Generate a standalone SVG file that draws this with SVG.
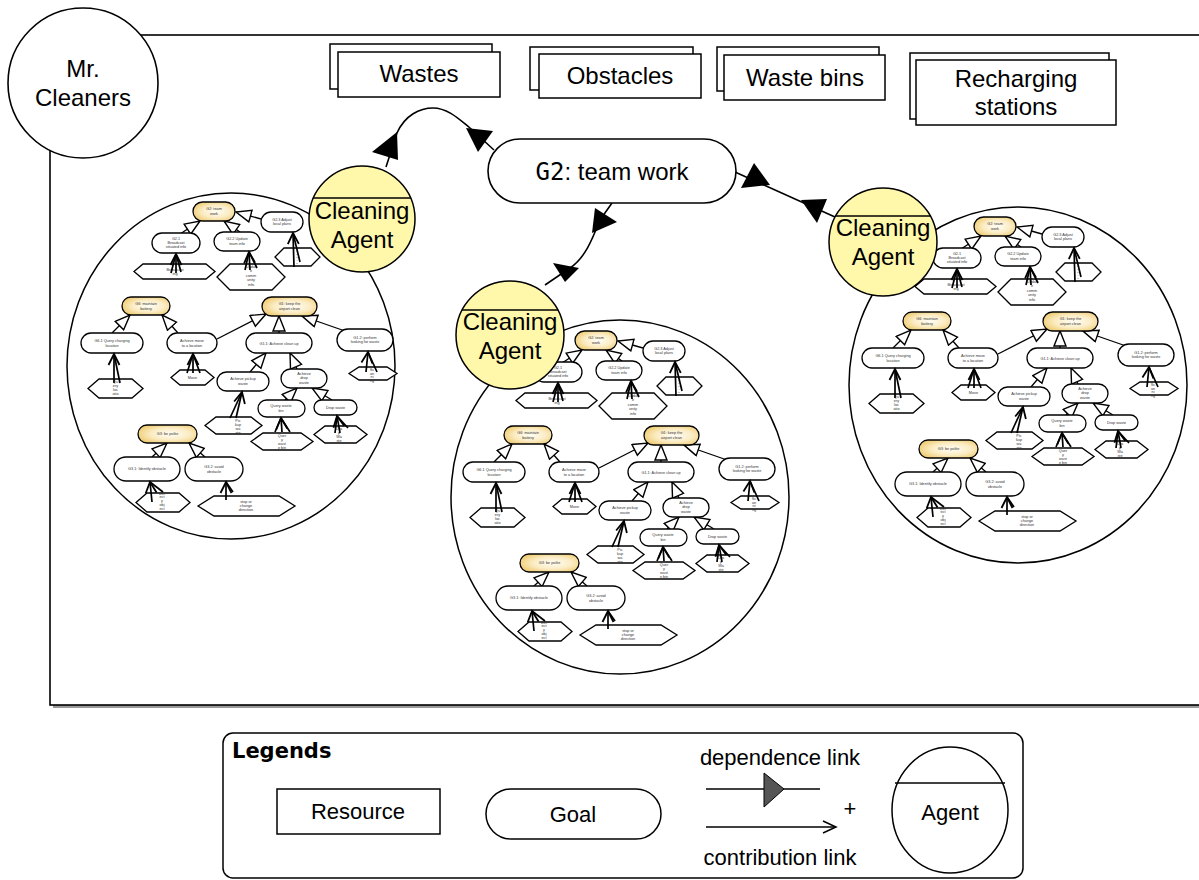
<svg xmlns="http://www.w3.org/2000/svg" width="1199" height="880" viewBox="0 0 1199 880">
<defs>
<style>
 .lbl{font-family:"Liberation Sans",Arial,sans-serif;fill:#000;text-anchor:middle}
 .big{font-size:24px}
 .leg{font-size:22px}
 .t{font-family:"Liberation Sans",Arial,sans-serif;font-size:3.8px;fill:#333;text-anchor:middle}
 .tv{font-family:"Liberation Sans",Arial,sans-serif;font-size:2.4px;fill:#333;text-anchor:middle}
 .g{fill:#fff;stroke:#000;stroke-width:1.3}
 .gy{fill:url(#gold);stroke:#000;stroke-width:1.3}
 .hx{fill:#fff;stroke:#000;stroke-width:1.3}
 .dc{stroke:#000;stroke-width:1.3;fill:none;marker-end:url(#hollow)}
 .me{stroke:#000;stroke-width:1.7;fill:none}
 .mh{stroke:#000;stroke-width:1.7;fill:none;marker-end:url(#vee)}
 .res{fill:#fff;stroke:#000;stroke-width:1.5}
 .agent{fill:#fff8ab;stroke:#000;stroke-width:1.5}
 .scope{fill:#fff;stroke:#000;stroke-width:1.5}
 .dep{stroke:#000;stroke-width:1.6;fill:none}
 .dtri{fill:#000}
</style>
<radialGradient id="gold" cx="0.55" cy="0.5" r="0.6">
 <stop offset="0" stop-color="#fffdf5"/>
 <stop offset="0.55" stop-color="#fbecc4"/>
 <stop offset="1" stop-color="#efcc72"/>
</radialGradient>
<marker id="hollow" markerWidth="18" markerHeight="15" refX="16" refY="7" orient="auto" markerUnits="userSpaceOnUse">
 <path d="M1,1 L16,7 L1,13 Z" fill="#fff" stroke="#000" stroke-width="1.4"/>
</marker>
<marker id="vee" markerWidth="14" markerHeight="14" refX="12" refY="7" orient="auto" markerUnits="userSpaceOnUse">
 <path d="M1,1.5 L12,7 L1,12.5" fill="none" stroke="#000" stroke-width="1.8"/>
</marker>
<marker id="open" markerWidth="16" markerHeight="14" refX="14" refY="7" orient="auto" markerUnits="userSpaceOnUse">
 <path d="M1,1 L14,7 L1,13" fill="none" stroke="#000" stroke-width="1.5"/>
</marker>

<!-- goal model carried inside each cleaning agent (drawn at the left agent's position) -->
<g id="goal-model">
 <g class="links">
  <line class="dc" x1="180" y1="234" x2="200" y2="221"/>
  <line class="dc" x1="240" y1="232" x2="224" y2="221"/>
  <line class="dc" x1="261" y1="219" x2="236" y2="212"/>
  <line class="dc" x1="112" y1="333" x2="130" y2="315"/>
  <line class="dc" x1="178" y1="333" x2="162" y2="315"/>
  <line class="dc" x1="217" y1="339" x2="266" y2="314"/>
  <line class="dc" x1="279" y1="333" x2="279" y2="316"/>
  <line class="dc" x1="345" y1="331" x2="302" y2="316"/>
  <line class="dc" x1="250" y1="372" x2="266" y2="353"/>
  <line class="dc" x1="297" y1="369" x2="290" y2="353"/>
  <line class="dc" x1="285" y1="400" x2="297" y2="388"/>
  <line class="dc" x1="332" y1="400" x2="312" y2="388"/>
  <line class="dc" x1="152" y1="457" x2="167" y2="443"/>
  <line class="dc" x1="205" y1="457" x2="189" y2="443"/>
 </g>
 <g class="goals">
  <rect class="gy" x="193" y="202" width="42" height="19" rx="9.5"/>
  <text class="t" x="214" y="210">G2: team</text><text class="t" x="214" y="214.5">work</text>
  <rect class="g" x="261" y="212" width="42" height="20" rx="10"/>
  <text class="t" x="282" y="221">G2.3 Adjust</text><text class="t" x="282" y="225">local plans</text>
  <rect class="g" x="152" y="233" width="48" height="20" rx="10"/>
  <text class="t" x="176" y="240">G2.1</text><text class="t" x="176" y="244">Broadcast</text><text class="t" x="176" y="248">situated info</text>
  <rect class="g" x="214" y="232" width="46" height="19" rx="9.5"/>
  <text class="t" x="237" y="240">G2.2 Update</text><text class="t" x="237" y="244.5">team info</text>
  <rect class="gy" x="122" y="297" width="48" height="18" rx="9"/>
  <text class="t" x="146" y="305">G6: maintain</text><text class="t" x="146" y="309.5">battery</text>
  <rect class="gy" x="262" y="297" width="55" height="19" rx="9.5"/>
  <text class="t" x="289.5" y="305">G1: keep the</text><text class="t" x="289.5" y="309.5">airport clean</text>
  <rect class="g" x="81" y="333" width="62" height="20" rx="10"/>
  <text class="t" x="112" y="342">G6.1 Query charging</text><text class="t" x="112" y="346.5">location</text>
  <rect class="g" x="167" y="333" width="50" height="20" rx="10"/>
  <text class="t" x="192" y="342">Achieve move</text><text class="t" x="192" y="346.5">to a location</text>
  <rect class="g" x="246" y="333" width="66" height="20" rx="10"/>
  <text class="t" x="279" y="344.5">G1.1: Achieve clean up</text>
  <rect class="g" x="337" y="329" width="56" height="22" rx="11"/>
  <text class="t" x="365" y="338.5">G1.2: perform</text><text class="t" x="365" y="343">looking for waste</text>
  <rect class="g" x="217" y="372" width="52" height="19" rx="9.5"/>
  <text class="t" x="243" y="380">Achieve pickup</text><text class="t" x="243" y="384.5">waste</text>
  <rect class="g" x="281" y="369" width="46" height="19" rx="9.5"/>
  <text class="t" x="304" y="374.5">Achieve</text><text class="t" x="304" y="379">drop</text><text class="t" x="304" y="383.5">waste</text>
  <rect class="g" x="258" y="400" width="47" height="17" rx="8.5"/>
  <text class="t" x="281" y="407">Query waste</text><text class="t" x="281" y="411.5">bin</text>
  <rect class="g" x="314" y="400" width="43" height="15" rx="7.5"/>
  <text class="t" x="335.5" y="408.8">Drop waste</text>
  <rect class="gy" x="138" y="425" width="59" height="18" rx="9"/>
  <text class="t" x="167.5" y="435.2">G3: be polite</text>
  <rect class="g" x="114" y="457" width="66" height="24" rx="12"/>
  <text class="t" x="147" y="470">G3.1: Identify obstacle</text>
  <rect class="g" x="185" y="457" width="58" height="24" rx="12"/>
  <text class="t" x="214" y="468">G3.2: avoid</text><text class="t" x="214" y="472.5">obstacle</text>
 </g>
 <g class="plans">
  <polygon class="hx" points="134,271.5 143,264 206,264 215,271.5 206,279 143,279"/>
  <text class="t" x="175" y="270.5">Broadcast</text><text class="t" x="175" y="275">ing</text>
  <polygon class="hx" points="217,277 230,264 272,264 285,277 272,290 230,290"/>
  <text class="t" x="251" y="268">Updat</text><text class="t" x="251" y="272">e</text><text class="t" x="251" y="276.5">comm</text><text class="t" x="251" y="281">unity</text><text class="t" x="251" y="285.5">info</text>
  <polygon class="hx" points="275,257 284,248 311,248 320,257 311,266 284,266"/>
  <text class="tv" x="297" y="252">r</text><text class="tv" x="297" y="255">e</text><text class="tv" x="297" y="258">p</text><text class="tv" x="297" y="261">l</text><text class="tv" x="297" y="264">a</text><text class="tv" x="297" y="267">n</text>
  <polygon class="hx" points="88,388.5 99,379 132,379 143,388.5 132,398 99,398"/>
  <text class="t" x="115.5" y="383">Qu</text><text class="t" x="115.5" y="387">ery</text><text class="t" x="115.5" y="391">loc</text><text class="t" x="115.5" y="395">atio</text><text class="t" x="115.5" y="399">n</text>
  <polygon class="hx" points="171,377.5 180,370 205,370 214,377.5 205,385 180,385"/>
  <text class="t" x="192.5" y="379">Move</text>
  <polygon class="hx" points="349,373.5 359,367 387,367 397,373.5 387,380 359,380"/>
  <text class="t" x="372" y="371">Sc</text><text class="t" x="372" y="374.5">an</text><text class="t" x="372" y="378">ni</text><text class="t" x="372" y="381.5">ng</text>
  <polygon class="hx" points="205,425.5 216,417 251,417 262,425.5 251,434 216,434"/>
  <text class="t" x="238" y="421.5">Pic</text><text class="t" x="238" y="425.5">kup</text><text class="t" x="238" y="429.5">wa</text><text class="t" x="238" y="433.5">ste</text>
  <polygon class="hx" points="251,441.5 263,433 301,433 313,441.5 301,450 263,450"/>
  <text class="t" x="282" y="437">Quer</text><text class="t" x="282" y="440.5">y</text><text class="t" x="282" y="444.5">wast</text><text class="t" x="282" y="448.5">e bin</text>
  <polygon class="hx" points="314,434.5 325,426 356,426 367,434.5 356,443 325,443"/>
  <text class="t" x="339" y="430">Dro</text><text class="t" x="339" y="433.5">p</text><text class="t" x="339" y="437.5">Wa</text><text class="t" x="339" y="441.5">ste</text>
  <polygon class="hx" points="136,502.5 147,493 179,493 190,502.5 179,512 147,512"/>
  <text class="t" x="162" y="494.5">Det</text><text class="t" x="162" y="498">ect</text><text class="t" x="162" y="501.5">y</text><text class="t" x="162" y="505.5">obj</text><text class="t" x="162" y="509.5">ect</text>
  <polygon class="hx" points="198,506 214,496 279,496 295,506 279,516 214,516"/>
  <text class="t" x="246" y="503">stop or</text><text class="t" x="246" y="507">change</text><text class="t" x="246" y="511">direction</text>
 </g>
 <g class="means-end">
  <path class="me" d="M171,273 L176,254 M181,272 L176,254"/><line class="mh" x1="176" y1="273" x2="176" y2="254"/>
  <path class="me" d="M245,270 L249,252 M257,268 L249,252"/><line class="mh" x1="250" y1="270" x2="249" y2="252"/>
  <path class="me" d="M300,262 L293,233"/><line class="mh" x1="294" y1="267" x2="293" y2="233"/>
  <path class="me" d="M120,383 L114,354"/><line class="mh" x1="114" y1="383" x2="114" y2="354"/>
  <path class="me" d="M187,373 L193,354 M200,373 L193,354"/><line class="mh" x1="193" y1="373" x2="193" y2="354"/>
  <path class="me" d="M377,372 L368,352"/><line class="mh" x1="366" y1="372" x2="368" y2="352"/>
  <path class="me" d="M230,418 L242,392"/><line class="mh" x1="236" y1="418" x2="242" y2="392"/>
  <path class="me" d="M275,432 L281,418 M290,432 L281,418"/><line class="mh" x1="282" y1="432" x2="281" y2="418"/>
  <path class="me" d="M335,433 L337,416 M348,428 L337,416"/><line class="mh" x1="340" y1="433" x2="337" y2="416"/>
  <path class="me" d="M163,492 L150,482"/><line class="mh" x1="152" y1="502" x2="150" y2="482"/>
  <path class="me" d="M233,492 L226,482"/><line class="mh" x1="226" y1="500" x2="226" y2="482"/>
 </g>
</g>
</defs>

<!-- system boundary of the team -->
<g id="team-boundary">
 <rect x="53" y="38" width="1170" height="670" fill="#9a9a9a"/>
 <rect x="50" y="35" width="1170" height="670" fill="#fff" stroke="#000" stroke-width="1.6"/>
</g>

<g id="mr-cleaners">
 <circle cx="83" cy="83" r="75" fill="#fff" stroke="#000" stroke-width="1.6"/>
 <text class="lbl big" x="83" y="77">Mr.</text>
 <text class="lbl big" x="83" y="106">Cleaners</text>
</g>

<!-- shared resources -->
<g id="res-wastes">
 <rect class="res" x="330" y="44" width="162" height="45"/>
 <rect class="res" x="338" y="52" width="162" height="45"/>
 <text class="lbl big" x="419" y="82">Wastes</text>
</g>
<g id="res-obstacles">
 <rect class="res" x="530" y="47" width="163" height="43"/>
 <rect class="res" x="539" y="54" width="162" height="44"/>
 <text class="lbl big" x="620" y="84">Obstacles</text>
</g>
<g id="res-waste-bins">
 <rect class="res" x="717" y="47" width="162" height="44"/>
 <rect class="res" x="724" y="55" width="161" height="45"/>
 <text class="lbl big" x="805" y="86">Waste bins</text>
</g>
<g id="res-recharging">
 <rect class="res" x="910" y="53" width="199" height="66"/>
 <rect class="res" x="916" y="60" width="200" height="65"/>
 <text class="lbl big" x="1016" y="87">Recharging</text>
 <text class="lbl big" x="1016" y="115">stations</text>
</g>

<!-- agent scopes with their internal goal models -->
<g id="scope-left">
 <ellipse class="scope" cx="231" cy="366" rx="164" ry="173"/>
 <use href="#goal-model"/>
</g>
<g id="scope-middle">
 <ellipse class="scope" cx="620" cy="497" rx="169" ry="177"/>
 <use href="#goal-model" transform="translate(382,129)"/>
</g>
<g id="scope-right">
 <ellipse class="scope" cx="1018" cy="385" rx="169" ry="178"/>
 <use href="#goal-model" transform="translate(781,15)"/>
</g>

<!-- dependency links between the agents and the team goal -->
<g id="connectors">
 <path class="dep" d="M386,167 L397,133 C405,115 420,108 433,108 C448,108 460,120 470,128 L494,150"/>
 <polygon class="dtri" points="397,132 372,152 398,160"/>
 <polygon class="dtri" points="466,128 493,131 478,152"/>
 <path class="dep" d="M612,203 L600,220 C592,240 585,258 570,268 L545,285"/>
 <polygon class="dtri" points="595,208 617,222 592,233"/>
 <polygon class="dtri" points="553,263 579,268 565,282"/>
 <path class="dep" d="M735,172 L835,217"/>
 <polygon class="dtri" points="754,163 741,188 770,185"/>
 <polygon class="dtri" points="801,200 827,199 817,223"/>
</g>

<g id="goal-g2">
 <rect x="488" y="139" width="248" height="64" rx="32" fill="#fff" stroke="#000" stroke-width="1.6"/>
 <text class="lbl big" x="612" y="180"><tspan font-family="DejaVu Sans Mono, monospace">G2</tspan>: team work</text>
</g>

<!-- the three cleaning agents -->
<g id="agent-left">
 <circle class="agent" cx="362" cy="219" r="53"/>
 <line x1="313" y1="198" x2="411" y2="198" stroke="#000" stroke-width="1.5"/>
 <text class="lbl big" x="362" y="219">Cleaning</text>
 <text class="lbl big" x="362" y="248">Agent</text>
</g>
<g id="agent-middle">
 <circle class="agent" cx="510" cy="335" r="54"/>
 <line x1="462" y1="310" x2="558" y2="310" stroke="#000" stroke-width="1.5"/>
 <text class="lbl big" x="510" y="330">Cleaning</text>
 <text class="lbl big" x="510" y="359">Agent</text>
</g>
<g id="agent-right">
 <circle class="agent" cx="883" cy="242" r="54"/>
 <line x1="835" y1="216" x2="931" y2="216" stroke="#000" stroke-width="1.5"/>
 <text class="lbl big" x="883" y="236">Cleaning</text>
 <text class="lbl big" x="883" y="265">Agent</text>
</g>

<!-- legend -->
<g id="legend">
 <rect x="223" y="733" width="800" height="145" rx="10" fill="#fff" stroke="#000" stroke-width="1.5"/>
 <text x="232" y="758" font-family="DejaVu Sans, sans-serif" font-weight="bold" font-size="21">Legends</text>
 <rect x="277" y="789" width="163" height="45" fill="#fff" stroke="#000" stroke-width="1.5"/>
 <text class="lbl leg" x="358" y="819">Resource</text>
 <rect x="486" y="789" width="175" height="50" rx="25" fill="#fff" stroke="#000" stroke-width="1.5"/>
 <text class="lbl leg" x="573" y="822">Goal</text>
 <text class="lbl leg" x="780" y="765">dependence link</text>
 <line x1="706" y1="789" x2="820" y2="789" stroke="#000" stroke-width="1.5"/>
 <polygon points="764,773 784,789 764,807" fill="#555" stroke="#000" stroke-width="1"/>
 <line x1="706" y1="827" x2="836" y2="827" stroke="#000" stroke-width="1.5" marker-end="url(#open)"/>
 <text class="lbl leg" x="850" y="816">+</text>
 <text class="lbl leg" x="780" y="865">contribution link</text>
 <ellipse cx="950" cy="810" rx="58" ry="63" fill="#fff" stroke="#000" stroke-width="1.5"/>
 <line x1="895" y1="783" x2="1005" y2="783" stroke="#000" stroke-width="1.5"/>
 <text class="lbl leg" x="950" y="820">Agent</text>
</g>
</svg>
